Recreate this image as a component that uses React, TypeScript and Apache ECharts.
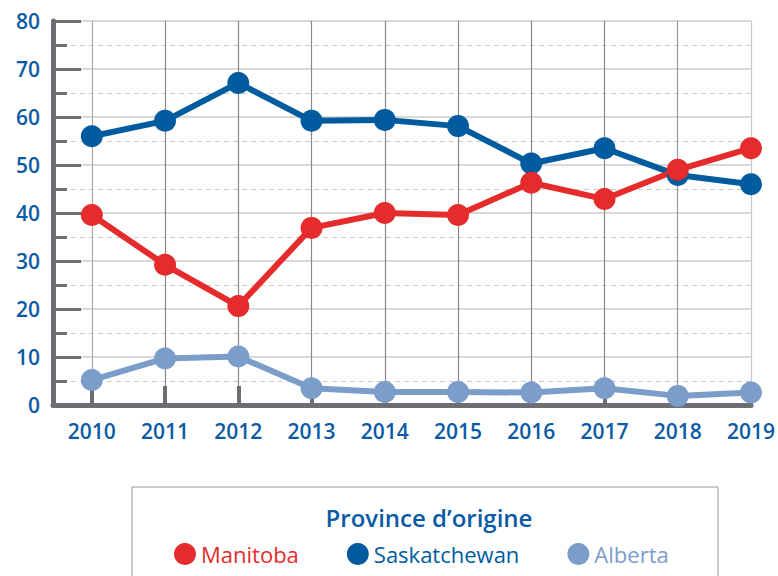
import React, { useEffect, useRef } from "react";
import * as echarts from "echarts";

const years = [2010, 2011, 2012, 2013, 2014, 2015, 2016, 2017, 2018, 2019];
const manitoba = [39.6, 29.2, 20.6, 36.9, 40.0, 39.6, 46.3, 42.9, 49.0, 53.5];
const saskatchewan = [56.0, 59.2, 67.1, 59.2, 59.4, 58.1, 50.3, 53.5, 47.9, 46.0];
const alberta = [5.2, 9.7, 10.1, 3.5, 2.7, 2.7, 2.6, 3.5, 1.9, 2.6];
const yTicks = [0, 10, 20, 30, 40, 50, 60, 70, 80];
const legendTitle = "Province d\u2019origine";
const names = ["Manitoba", "Saskatchewan", "Alberta"];

const RED = "#e52b2b";
const DARK = "#005b9f";
const LIGHT = "#7b9dca";
const AXIS = "#6d6e71";
const LABEL = "#0a5aa5";
const FONT = "'Open Sans', 'Noto Sans', sans-serif";

export default function App() {
  const ref = useRef<HTMLDivElement>(null);
  useEffect(() => {
    if (!ref.current) return;
    const chart = echarts.init(ref.current, undefined, { renderer: "svg" });
    const pairs = (vals: number[]) => years.map((y, i) => [y, vals[i]]);
    const lineSeries = (name: string, vals: number[], color: string) => ({
      name,
      type: "line",
      data: pairs(vals),
      symbol: "circle",
      symbolSize: 22,
      itemStyle: { color },
      lineStyle: { color, width: 6 },
      z: 3,
    });
    chart.setOption({
      animation: false,
      grid: { left: 53, right: 24, top: 21, bottom: 171, containLabel: false },
      xAxis: {
        type: "value",
        min: 2009.47,
        max: 2019,
        axisLine: { show: true, lineStyle: { color: AXIS, width: 5 } },
        axisTick: {
          show: true,
          inside: true,
          length: 19,
          lineStyle: { color: AXIS, width: 4 },
          customValues: years,
        },
        axisLabel: {
          customValues: years,
          formatter: (v: number) => String(Math.round(v)),
          color: LABEL,
          fontSize: 21,
          fontWeight: 600,
          fontFamily: FONT,
          margin: 15,
        },
        splitLine: {
          show: true,
          lineStyle: {
            color: ["#aaaaaa", "#888888", "#888888", "#888888", "#888888", "#888888", "#888888", "#888888", "#999999", "#c8c8c8"],
            width: 1.2,
          },
        },
      },
      yAxis: {
        type: "value",
        min: yTicks[0],
        max: yTicks[yTicks.length - 1],
        interval: 10,
        axisLine: { show: true, lineStyle: { color: AXIS, width: 5 } },
        axisTick: { show: true, inside: true, length: 28, lineStyle: { color: AXIS, width: 3 } },
        minorTick: { show: true, splitNumber: 2, length: 14, lineStyle: { color: AXIS, width: 3 } },
        axisLabel: {
          color: LABEL,
          fontSize: 21,
          fontWeight: 600,
          fontFamily: FONT,
          margin: 13,
        },
        splitLine: { show: true, lineStyle: { color: "#cccccc", width: 1.5 } },
        minorSplitLine: { show: true, lineStyle: { color: "#cccccc", width: 1.2, type: [5, 4] } },
      },
      legend: {
        data: [
          { name: names[0], textStyle: { color: RED } },
          { name: names[1], textStyle: { color: DARK } },
          { name: names[2], textStyle: { color: LIGHT } },
        ],
        icon: "circle",
        itemWidth: 22,
        itemHeight: 22,
        itemGap: 48,
        left: 169,
        top: 538,
        textStyle: { fontSize: 22, fontWeight: 500, fontFamily: FONT },
      },
      graphic: [
        {
          type: "rect",
          shape: { x: 132, y: 487, width: 586, height: 120 },
          style: { fill: "none", stroke: "#999999", lineWidth: 1 },
          silent: true,
        },
        {
          type: "text",
          x: 429,
          y: 517,
          style: {
            text: legendTitle,
            fill: LABEL,
            fontSize: 24,
            fontWeight: 600,
            fontFamily: FONT,
            align: "center",
            verticalAlign: "middle",
          },
        },
      ],
      series: [
        lineSeries(names[1], saskatchewan, DARK),
        lineSeries(names[2], alberta, LIGHT),
        lineSeries(names[0], manitoba, RED),
      ],
    });
    return () => chart.dispose();
  }, []);
  return (
    <div
      ref={ref}
      style={{ position: "fixed", left: 0, top: 0, width: 778, height: 576, background: "#fff" }}
    />
  );
}
